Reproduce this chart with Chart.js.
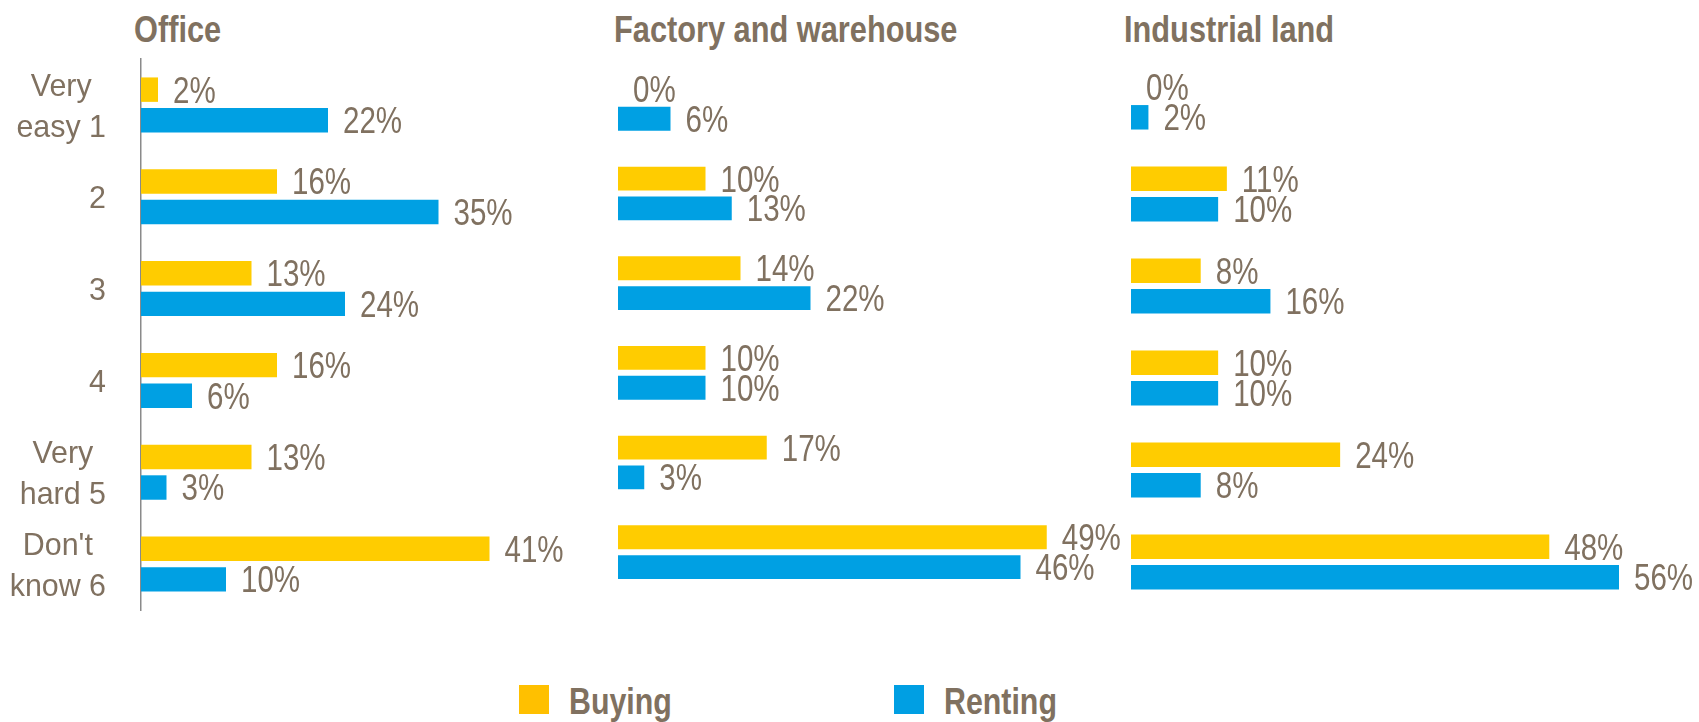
<!DOCTYPE html>
<html><head><meta charset="utf-8">
<script src="https://cdn.jsdelivr.net/npm/chart.js@4.4.1/dist/chart.umd.min.js"></script>
<style>
html,body{margin:0;padding:0;background:#fff;}
#wrap{position:relative;width:1699px;height:722px;overflow:hidden;font-family:"Liberation Sans",Arial,sans-serif;color:#807160;}
canvas{position:absolute;}
.title{position:absolute;font-weight:bold;font-size:37.5px;line-height:38px;white-space:nowrap;top:10px;transform:scaleX(0.82);transform-origin:0 0;}
.leg{position:absolute;font-weight:bold;font-size:37px;line-height:37px;white-space:nowrap;top:683px;transform:scaleX(0.82);transform-origin:0 0;}
.sw{position:absolute;width:30px;height:29px;top:685px;}
</style></head><body>
<div id="wrap"></div>
<script>
// ---- data ----
const categories = [["Very","easy 1"],["2"],["3"],["4"],["Very","hard 5"],["Don't","know 6"]];
const panelTitles = ["Office","Factory and warehouse","Industrial land"];
const seriesNames = ["Buying","Renting"];
const officeBuying = [2,16,13,16,13,41];
const officeRenting = [22,35,24,6,3,10];
const factoryBuying = [0,10,14,10,17,49];
const factoryRenting = [6,13,22,10,3,46];
const landBuying = [0,11,8,10,24,48];
const landRenting = [2,10,16,10,8,56];

// ---- style ----
const FONT = '"Liberation Sans",Arial,sans-serif';
const SQ = 0.82;      // horizontal squeeze for value labels (narrow look)
const SQ_CAT = 0.95;  // squeeze for category labels
const TEXT = '#807160';
const YELLOW = '#FFCC00', BLUE = '#00A0E3';
const LEG_YELLOW = '#FFC000', LEG_BLUE = '#009FE3';

const panels = [
  {title: panelTitles[0], buy: officeBuying, rent: officeRenting, left:0, w:600, max:50,
   pad:{left:0,top:59,right:34,bottom:40}, titleX:134, showAxis:true},
  {title: panelTitles[1], buy: factoryBuying, rent: factoryRenting, left:600, w:522, max:50,
   pad:{left:18,top:59,right:66.5,bottom:53}, titleX:614, showAxis:false},
  {title: panelTitles[2], buy: landBuying, rent: landRenting, left:1122, w:577, max:56,
   pad:{left:9,top:56,right:80,bottom:42}, titleX:1124, showAxis:false}
];
const H = 650;
const wrap = document.getElementById('wrap');

function squeezedText(ctx, txt, x, y, sq){
  ctx.save(); ctx.translate(x, y); ctx.scale(sq, 1); ctx.fillText(txt, 0, 0); ctx.restore();
}

const valueLabels = {
  id:'valueLabels',
  afterDatasetsDraw(chart){
    const ctx = chart.ctx; const fs = 36;
    ctx.save();
    ctx.font = fs + 'px ' + FONT; ctx.fillStyle = TEXT;
    ctx.textAlign = 'left'; ctx.textBaseline = 'alphabetic';
    chart.data.datasets.forEach((ds,di)=>{
      const meta = chart.getDatasetMeta(di);
      meta.data.forEach((el,i)=>{
        squeezedText(ctx, ds.data[i] + '%', el.x + 15, el.y + 0.36*fs, SQ);
      });
    });
    ctx.restore();
  }
};
const catLabels = {
  id:'catLabels',
  afterDraw(chart, args, opts){
    if(!opts.show) return;
    const ctx = chart.ctx; const fs = 32; const L = 41; const capH = 0.72*fs;
    const ys = chart.scales.y;
    ctx.save();
    ctx.font = fs + 'px ' + FONT; ctx.fillStyle = TEXT;
    ctx.textAlign = 'center'; ctx.textBaseline = 'alphabetic';
    categories.forEach((lines,i)=>{
      const cy = ys.getPixelForValue(i);
      const w = SQ_CAT * Math.max(...lines.map(l=>ctx.measureText(l).width));
      const cx = 106 - w/2;
      const b0 = cy - ((lines.length-1)*L - capH)/2;
      lines.forEach((l,j)=>squeezedText(ctx, l, cx, b0 + j*L, SQ_CAT));
    });
    ctx.restore();
  }
};

panels.forEach((p,k)=>{
  const t = document.createElement('div');
  t.className='title'; t.style.left = p.titleX+'px'; t.textContent = p.title;
  wrap.appendChild(t);
  const c = document.createElement('canvas');
  c.width = p.w; c.height = H; c.style.left = p.left+'px'; c.style.top = '0px';
  wrap.appendChild(c);
  const yScale = {display:p.showAxis, grid:{display:false},
           border:{display:true, color:'#8a8a8a', width:1.5},
           ticks:{display:false}};
  if (p.showAxis) yScale.afterFit = (s)=>{ s.width = 141; };
  new Chart(c, {
    type:'bar',
    data:{
      labels: categories,
      datasets:[
        {label: seriesNames[0], data: p.buy, backgroundColor: YELLOW, borderWidth:0},
        {label: seriesNames[1], data: p.rent, backgroundColor: BLUE, borderWidth:0}
      ]
    },
    options:{
      indexAxis:'y', responsive:false, animation:false, devicePixelRatio:1,
      categoryPercentage:0.665, barPercentage:0.8,
      layout:{padding:p.pad},
      plugins:{legend:{display:false}, tooltip:{enabled:false}, title:{display:false},
               catLabels:{show:p.showAxis}},
      scales:{
        x:{display:false, min:0, max:p.max},
        y:yScale
      }
    },
    plugins:[valueLabels, catLabels]
  });
});

// legend
[[519, LEG_YELLOW, 569, seriesNames[0]], [894, LEG_BLUE, 944, seriesNames[1]]].forEach(([sx,col,tx,name])=>{
  const s = document.createElement('div'); s.className='sw'; s.style.left = sx+'px'; s.style.background = col;
  wrap.appendChild(s);
  const l = document.createElement('div'); l.className='leg'; l.style.left = tx+'px'; l.textContent = name;
  wrap.appendChild(l);
});
</script>
</body></html>
